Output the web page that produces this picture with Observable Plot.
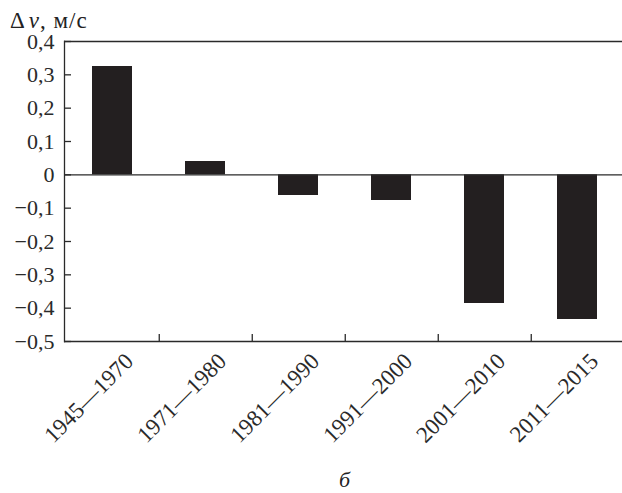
<!DOCTYPE html>
<html><head><meta charset="utf-8">
<script src="https://cdn.jsdelivr.net/npm/d3@7"></script>
<script src="https://cdn.jsdelivr.net/npm/@observablehq/plot@0.6"></script>
<style>
body{margin:0;background:#fff;font-family:"Liberation Serif",serif;}
#wrap{position:relative;width:622px;height:493px;overflow:hidden;}
#title{position:absolute;left:10px;top:9px;font-size:23px;line-height:1;letter-spacing:1px;color:#222;white-space:nowrap;}
#title i{margin-left:3px;}
#caption{position:absolute;left:0;top:469px;width:689px;text-align:center;font-size:22px;line-height:1;font-style:italic;color:#222;}
</style></head><body>
<div id="wrap"><div id="chart"></div><div id="title">Δ<i>v</i>, м/с</div><div id="caption">б</div></div>
<script>
const categories = ["1945—1970","1971—1980","1981—1990","1991—2000","2001—2010","2011—2015"];
const values = [0.325, 0.04, -0.062, -0.077, -0.386, -0.434];
const yTicks = [0.4, 0.3, 0.2, 0.1, 0, -0.1, -0.2, -0.3, -0.4, -0.5];
const data = categories.map((c, i) => ({period: c, dv: values[i]}));
const fmt = d => Math.abs(d) < 1e-9 ? "0" : d.toFixed(1).replace(".", ",").replace("-", "\u2212");
const xRange = [64, 625];
const step = (xRange[1] - xRange[0]) / categories.length;
const ink = "#2a2a2a";

const chart = Plot.plot({
  width: 622, height: 493,
  marginTop: 41, marginBottom: 152, marginLeft: 64, marginRight: 0,
  style: {fontFamily: "Liberation Serif", fontSize: "22px", color: ink, background: "#fff"},
  x: {domain: categories, range: xRange, paddingInner: 0.572, paddingOuter: 0.286},
  y: {domain: [-0.5, 0.4]},
  marks: [
    Plot.barY(data, {x: "period", y: "dv", fill: "#231f20"}),
    Plot.ruleY([0.4, 0, -0.5], {stroke: ink, strokeWidth: 1.3}),
    Plot.frame({anchor: "left", stroke: ink, strokeWidth: 1.3}),
    Plot.ruleX(categories.slice(0, -1), {x: d => d, y1: -0.5, y2: -0.479, dx: step / 2, stroke: ink, strokeWidth: 1.3}),
    Plot.axisY({ticks: yTicks, tickFormat: fmt, tickSize: -7, tickPadding: 17, label: null, strokeWidth: 1.3, stroke: ink, fontSize: 22, fontFamily: "Liberation Serif"}),
    Plot.axisX({tickSize: 0, tickRotate: -45, tickPadding: 16, label: null, fontSize: 23, fontFamily: "Liberation Serif", dx: 17})
  ]
});
document.getElementById("chart").appendChild(chart);
</script>
</body></html>
